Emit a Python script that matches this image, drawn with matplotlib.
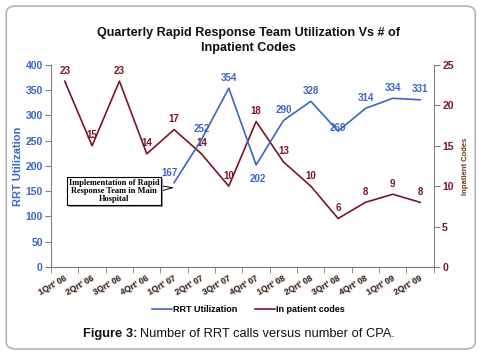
import numpy as np
import matplotlib
import matplotlib.pyplot as plt
import matplotlib.patheffects as pe
from matplotlib.patches import FancyBboxPatch
matplotlib.use('agg')

plt.rcParams['font.family'] = ['Liberation Sans', 'DejaVu Sans']

quarters = ["1Qrt' 06", "2Qrt' 06", "3Qrt' 06", "4Qrt' 06",
            "1Qrt' 07", "2Qrt' 07", "3Qrt' 07", "4Qrt' 07",
            "1Qrt' 08", "2Qrt' 08", "3Qrt' 08", "4Qrt' 08",
            "1Qrt' 09", "2Qrt' 09"]
rrt_quarters = quarters[4:]
rrt_util = [167, 252, 354, 202, 290, 328, 269, 314, 334, 331]
codes = [23, 15, 23, 14, 17, 14, 10, 18, 13, 10, 6, 8, 9, 8]

blue = '#3b66c4'
red = '#7d1424'

fig = plt.figure(figsize=(4.82, 3.55), dpi=100)
ax1 = fig.add_axes([0.106, 0.248, 0.794, 0.569])
ax2 = ax1.twinx()

x_all = np.arange(len(quarters))
x_rrt = np.array([quarters.index(q) for q in rrt_quarters])

l1, = ax1.plot(x_rrt, rrt_util, color=blue, lw=1.2, label='RRT Utilization')
l2, = ax2.plot(x_all, codes, color=red, lw=1.2, label='In patient codes')
ax1.set_zorder(ax2.get_zorder() + 1)
ax1.patch.set_visible(False)

# data labels
for xx, v in zip(x_rrt, rrt_util):
    off = (0, 4)
    if v == 167:
        off = (-3, 3)
    elif v == 202:
        off = (1, -14)
    elif v == 269:
        off = (0, -1)
    ax1.annotate(str(v), (xx, v), xytext=off, textcoords='offset points',
                 ha='center', va='bottom', fontsize=7, color=blue, fontweight='bold')
for xx, v in zip(x_all, codes):
    ax2.annotate(str(v), (xx, v), xytext=(0, 4), textcoords='offset points',
                 ha='center', va='bottom', fontsize=7, color=red, fontweight='bold')

ax1.set_xlim(-0.5, len(quarters) - 0.5)
ax1.set_ylim(0, 400)
ax2.set_ylim(0, 25)
ax1.set_yticks(np.arange(0, 401, 50))
ax2.set_yticks(np.arange(0, 26, 5))

ax1.set_xticks(x_all)
ax1.set_xticklabels(quarters, rotation=30, ha='right', rotation_mode='anchor',
                    fontsize=6, fontweight='bold', color='#1f2a66')
for t in ax1.get_xticklabels():
    t.set_path_effects([pe.withStroke(linewidth=1.2, foreground='#f9d9ad')])
ax1.set_xticks(np.arange(-0.5, len(quarters), 1), minor=True)
ax1.tick_params(axis='x', which='major', length=0, pad=6)
ax1.tick_params(axis='x', which='minor', length=4, color='#808080')

ax1.tick_params(axis='y', labelsize=7.5, labelcolor=blue, length=4, color='#808080', pad=2)
ax2.tick_params(axis='y', labelsize=7.5, labelcolor=red, length=4, color='#808080', pad=2)
for t in ax1.get_yticklabels():
    t.set_fontweight('bold')
for t in ax2.get_yticklabels():
    t.set_fontweight('bold')

for ax in (ax1, ax2):
    ax.spines['top'].set_visible(False)
    for s in ('left', 'right', 'bottom'):
        ax.spines[s].set_color('#808080')
ax2.spines['left'].set_visible(False)
ax1.spines['right'].set_visible(False)

ax1.set_ylabel('RRT Utilization', color=blue, fontsize=8, fontweight='bold', labelpad=2)
ax2.set_ylabel('Inpatient Codes', color='#7a3418', fontsize=5.5, fontweight='bold', labelpad=6, rotation=90)

fig.text(0.515, 0.885, 'Quarterly Rapid Response Team Utilization Vs # of\nInpatient Codes',
         ha='center', va='center', fontsize=9.1, fontweight='bold', color='#111111',
         linespacing=1.3)

# callout box
ax1.annotate('Implementation of Rapid\nResponse Team in Main\nHospital', xy=(3.95, 157),
             xytext=(1.8, 150), textcoords='data', ha='center', va='center',
             fontsize=6, fontweight='bold', family=['Liberation Serif'], color='#000000',
             linespacing=1.0,
             bbox=dict(boxstyle='square,pad=0.22', fc='white', ec='black', lw=0.8,
                       path_effects=[pe.SimplePatchShadow(offset=(1.5, -1.5), shadow_rgbFace='#999999', alpha=1), pe.Normal()]),
             arrowprops=dict(arrowstyle='wedge,tail_width=0.6', fc='white', ec='black', lw=0.7,
                             shrinkA=0, shrinkB=0))

fig.legend(handles=[l1, l2], loc='center', bbox_to_anchor=(0.515, 0.128), ncol=2,
           frameon=False, handlelength=2.2, handletextpad=0.1, columnspacing=2.0,
           prop={'weight': 'bold', 'size': 6.5})

# caption with bold prefix
fig.canvas.draw()
r = fig.canvas.get_renderer()
t1 = fig.text(0.172, 0.059, 'Figure 3:', fontsize=9.3, fontweight='bold', va='center', color='#111111')
bb = t1.get_window_extent(renderer=r)
x2 = (bb.x1 + 3) / fig.bbox.width
fig.text(x2, 0.059, 'Number of RRT calls versus number of CPA.', fontsize=9.3, va='center', color='#111111')

border = FancyBboxPatch((0.013, 0.017), 0.973, 0.966, boxstyle='round,pad=0,rounding_size=0.02',
                        transform=fig.transFigure, fc='none', ec='#b5b5b5', lw=1.2)
fig.patches.append(border)

fig.savefig('out.png', dpi=100)
